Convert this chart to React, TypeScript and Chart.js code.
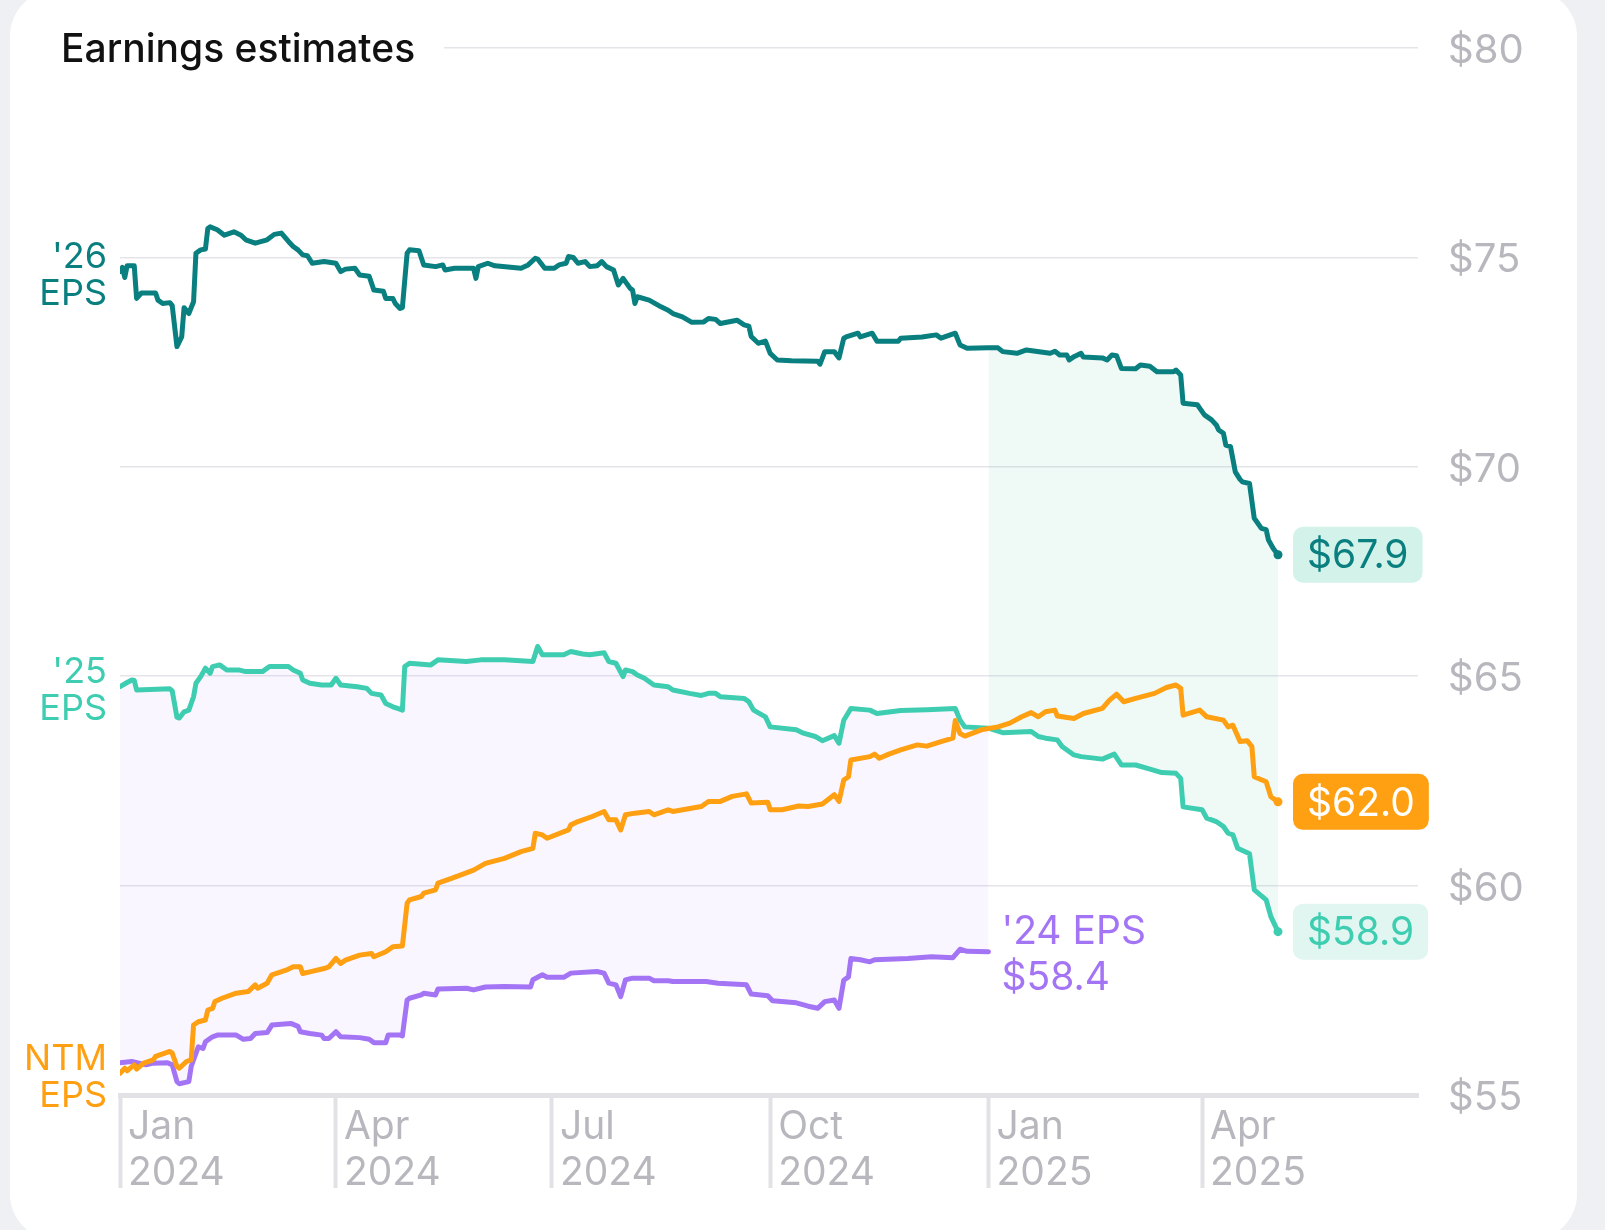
import React, { useEffect, useRef } from 'react';
import { Chart, registerables } from 'chart.js';

Chart.register(...registerables);

// Days counted from 1 Jan 2024
const eps26Days = [0,1,2,3,6,7,9,15,16,18,21,22,24,26,27,29,31,32,34,36,37,38,41,44,48,51,53,57,62,65,68,71,73,75,77,79,81,86,91,93,95,99,101,105,107,111,112,115,116,118,119,121,122,126,128,133,136,137,141,149,150,151,155,158,169,172,175,176,179,183,185,188,189,191,193,196,198,201,203,205,208,210,212,215,216,217,218,223,228,231,233,237,241,246,248,251,253,260,263,265,266,269,272,274,277,283,294,295,296,297,301,303,305,306,311,312,317,319,328,329,338,344,346,352,354,357,366,370,372,378,382,392,394,396,399,400,402,405,406,414,416,418,420,422,428,430,434,437,444,445,447,448,454,455,457,460,462,463,465,466,468,470,472,473,476,478,481,483,484,486,488];
const eps26Values = [74.66,74.76,74.52,74.8,74.8,74.02,74.15,74.15,73.98,73.9,73.92,73.85,72.87,73.1,73.8,73.66,73.94,75.1,75.18,75.2,75.69,75.73,75.66,75.53,75.61,75.53,75.42,75.34,75.42,75.55,75.58,75.38,75.26,75.18,75.06,75.04,74.86,74.9,74.86,74.66,74.72,74.74,74.58,74.55,74.22,74.19,74.02,74.02,73.9,73.78,73.8,75.1,75.18,75.16,74.82,74.78,74.82,74.7,74.74,74.74,74.5,74.78,74.86,74.8,74.74,74.82,74.98,74.96,74.74,74.74,74.82,74.86,75.02,75.0,74.86,74.9,74.78,74.8,74.9,74.78,74.7,74.34,74.5,74.26,74.22,73.9,74.06,73.98,73.82,73.74,73.66,73.58,73.45,73.46,73.54,73.52,73.42,73.5,73.39,73.36,73.11,72.95,73.0,72.71,72.55,72.53,72.52,72.45,72.6,72.75,72.75,72.6,73.07,73.1,73.19,73.1,73.19,73.0,73.0,73.07,73.1,73.15,73.07,73.19,72.91,72.83,72.84,72.84,72.75,72.71,72.79,72.71,72.76,72.67,72.67,72.55,72.63,72.71,72.62,72.6,72.55,72.67,72.65,72.35,72.34,72.43,72.4,72.27,72.27,72.31,72.19,71.52,71.48,71.4,71.24,71.12,71.0,70.88,70.8,70.52,70.48,69.88,69.7,69.64,69.6,68.77,68.53,68.5,68.25,68.05,67.9];

const eps25Days = [0,3,5,6,7,21,22,24,25,27,29,31,32,34,36,38,39,42,45,50,53,60,63,71,73,76,77,80,85,89,91,93,100,104,106,110,112,115,117,119,120,122,131,134,146,152,162,174,176,178,187,190,195,198,204,206,209,212,213,216,218,221,225,231,233,240,245,248,251,253,263,265,267,272,274,285,288,293,296,301,303,305,308,316,319,329,340,352,354,356,366,372,384,387,390,395,397,402,405,414,419,422,428,433,439,445,447,448,456,458,462,465,467,469,471,476,478,483,485,488];
const eps25Values = [64.75,64.85,64.91,64.9,64.67,64.7,64.65,64.02,64.0,64.15,64.19,64.51,64.83,64.99,65.19,65.07,65.23,65.27,65.15,65.15,65.11,65.11,65.23,65.23,65.15,65.07,64.91,64.83,64.79,64.79,64.95,64.79,64.75,64.71,64.59,64.55,64.35,64.27,64.23,64.19,65.23,65.31,65.27,65.39,65.35,65.39,65.39,65.35,65.71,65.51,65.51,65.59,65.53,65.51,65.56,65.35,65.31,64.99,65.15,65.11,65.03,64.95,64.79,64.75,64.67,64.59,64.54,64.59,64.59,64.51,64.47,64.39,64.19,64.03,63.79,63.72,63.64,63.56,63.46,63.58,63.4,63.95,64.23,64.19,64.11,64.18,64.2,64.23,63.95,63.79,63.76,63.65,63.68,63.56,63.52,63.48,63.32,63.12,63.08,63.02,63.14,62.88,62.88,62.8,62.7,62.68,62.56,61.88,61.81,61.61,61.53,61.41,61.25,61.21,60.89,60.76,59.9,59.66,59.26,58.9];

const ntmDays = [0,2,3,6,7,10,14,15,21,22,24,25,28,30,31,33,36,37,39,40,43,49,54,57,58,62,64,70,73,76,77,80,86,88,91,93,95,101,106,107,112,115,119,121,122,127,128,133,134,140,149,154,162,169,174,175,178,180,189,190,193,199,204,206,209,211,213,217,223,225,231,233,245,248,253,258,264,266,273,274,279,286,290,296,301,303,305,307,308,316,318,320,324,329,336,340,346,351,352,354,356,363,370,375,380,384,387,390,394,395,402,406,414,417,420,423,428,436,441,445,447,448,455,458,465,467,469,472,475,477,478,483,485,488];
const ntmValues = [55.52,55.64,55.58,55.72,55.62,55.76,55.84,55.92,56.04,56.0,55.68,55.64,55.8,55.84,56.67,56.75,56.79,57.03,57.07,57.23,57.31,57.43,57.47,57.63,57.55,57.67,57.87,57.98,58.06,58.06,57.9,57.94,58.02,58.06,58.26,58.14,58.22,58.34,58.38,58.3,58.42,58.54,58.56,59.58,59.66,59.74,59.82,59.9,60.06,60.18,60.37,60.53,60.65,60.81,60.89,61.25,61.21,61.13,61.33,61.45,61.53,61.65,61.77,61.57,61.57,61.33,61.69,61.73,61.77,61.69,61.81,61.77,61.89,62.01,62.01,62.13,62.19,61.97,61.99,61.81,61.81,61.9,61.89,61.95,62.17,62.01,62.52,62.6,63.0,63.08,63.14,63.04,63.14,63.24,63.36,63.33,63.44,63.52,63.94,63.63,63.57,63.72,63.79,63.88,64.03,64.13,64.03,64.15,64.19,64.05,63.99,64.11,64.23,64.43,64.57,64.39,64.47,64.59,64.73,64.79,64.71,64.07,64.19,64.03,63.95,63.79,63.83,63.44,63.46,63.32,62.6,62.48,62.12,62.0];

const eps24Days = [0,5,11,14,20,22,24,25,29,30,33,35,36,39,41,49,52,55,57,62,64,72,75,76,80,85,86,88,91,93,101,105,107,112,113,118,119,121,122,127,128,133,134,146,149,154,162,173,174,178,180,187,190,201,204,206,209,211,213,216,223,225,231,233,247,252,264,266,273,275,285,290,294,297,301,303,305,307,308,312,316,318,332,342,351,354,357,366];
const eps24Values = [55.77,55.8,55.72,55.76,55.77,55.72,55.32,55.27,55.32,55.68,56.15,56.11,56.27,56.39,56.43,56.43,56.33,56.35,56.47,56.49,56.67,56.71,56.64,56.51,56.47,56.43,56.35,56.35,56.51,56.39,56.37,56.33,56.25,56.25,56.43,56.43,56.41,57.27,57.31,57.39,57.43,57.39,57.53,57.55,57.51,57.58,57.59,57.58,57.75,57.87,57.81,57.81,57.91,57.95,57.91,57.67,57.63,57.35,57.75,57.79,57.79,57.73,57.73,57.71,57.71,57.67,57.63,57.41,57.37,57.25,57.2,57.12,57.07,57.23,57.27,57.07,57.74,57.82,58.26,58.23,58.18,58.23,58.26,58.3,58.28,58.48,58.43,58.42];

const xTickDays = [0, 91, 182, 274, 366, 456];
const xTickLabels = [['Jan', '2024'], ['Apr', '2024'], ['Jul', '2024'], ['Oct', '2024'], ['Jan', '2025'], ['Apr', '2025']];
const yTickValues = [55, 60, 65, 70, 75, 80];
const xRangeDays = [0, 547];
const seriesNames = ["'26", "'25", 'NTM', "'24"];
const TITLE = 'Earnings estimates';
const nextYearStartDay = 366;

const C26 = '#097f80';
const C25 = '#3fcdb1';
const CNTM = '#ff9f12';
const C24 = '#a375f5';
const FILL_TEAL = 'rgba(80,190,160,0.09)';
const FILL_PURPLE = 'rgba(160,110,250,0.06)';
const FONT = 'Inter';
const LINE_W = 5;

const pts = (days: number[], vals: number[]) => days.map((d, i) => ({ x: d, y: vals[i] }));

const endDot = (c: any) => (c.dataIndex === c.dataset.data.length - 1 ? 4.5 : 0);

const annotate = {
  id: 'annotate',
  afterDraw(chart: any) {
    const { ctx, chartArea } = chart;
    ctx.save();
    // title over the top grid line
    ctx.font = `500 39px ${FONT}`;
    const tw = ctx.measureText(TITLE).width;
    ctx.fillStyle = '#ffffff';
    ctx.fillRect(chartArea.left - 3, chartArea.top - 5, 61 + tw + 29 - chartArea.left + 3, 10);
    ctx.fillStyle = '#111111';
    ctx.textAlign = 'left';
    ctx.textBaseline = 'middle';
    ctx.fillText(TITLE, 61, chartArea.top + 2);

    // left series names
    const leftCols = [C26, C25, CNTM];
    ctx.font = `36px ${FONT}`;
    ctx.textAlign = 'right';
    for (let i = 0; i < 3; i++) {
      const meta = chart.getDatasetMeta(i);
      const p = meta.data[0];
      ctx.fillStyle = leftCols[i];
      ctx.fillText(seriesNames[i], chartArea.left - 13, p.y - 14.5);
      ctx.fillText('EPS', chartArea.left - 13, p.y + 23);
    }

    // right value badges
    const badges = [
      { i: 0, bg: '#d3f2ea', fg: C26 },
      { i: 1, bg: '#e1f6f1', fg: C25 },
      { i: 2, bg: CNTM, fg: '#ffffff' },
    ];
    ctx.font = `39px ${FONT}`;
    ctx.textAlign = 'left';
    for (const b of badges) {
      const meta = chart.getDatasetMeta(b.i);
      const data = chart.data.datasets[b.i].data as any[];
      const p = meta.data[meta.data.length - 1];
      const txt = '$' + data[data.length - 1].y.toFixed(1);
      const w = ctx.measureText(txt).width + 28;
      const x0 = p.x + 15;
      ctx.fillStyle = b.bg;
      ctx.beginPath();
      ctx.roundRect(x0, p.y - 28, w, 56, 10);
      ctx.fill();
      ctx.fillStyle = b.fg;
      ctx.fillText(txt, x0 + 14, p.y + 2);
    }

    // '24 label
    {
      const meta = chart.getDatasetMeta(3);
      const data = chart.data.datasets[3].data as any[];
      const p = meta.data[meta.data.length - 1];
      ctx.fillStyle = C24;
      ctx.fillText(seriesNames[3] + ' EPS', p.x + 13, p.y - 19);
      ctx.fillText('$' + data[data.length - 1].y.toFixed(1), p.x + 13, p.y + 27);
    }
    ctx.restore();
  },
};

export default function App() {
  const ref = useRef<HTMLCanvasElement>(null);
  useEffect(() => {
    const canvas = ref.current!;
    const d26 = pts(eps26Days, eps26Values);
    const chart = new Chart(canvas, {
      type: 'line',
      data: {
        datasets: [
          { label: "'26 EPS", data: d26, borderColor: C26, backgroundColor: C26, borderWidth: LINE_W, pointRadius: endDot, pointBackgroundColor: C26, pointBorderWidth: 0, fill: false, order: 1 },
          { label: "'25 EPS", data: pts(eps25Days, eps25Values), borderColor: C25, backgroundColor: C25, borderWidth: LINE_W, pointRadius: endDot, pointBackgroundColor: C25, pointBorderWidth: 0, fill: false, order: 2 },
          { label: 'NTM EPS', data: pts(ntmDays, ntmValues), borderColor: CNTM, backgroundColor: CNTM, borderWidth: LINE_W, pointRadius: endDot, pointBackgroundColor: CNTM, pointBorderWidth: 0, fill: false, order: 0 },
          { label: "'24 EPS", data: pts(eps24Days, eps24Values), borderColor: C24, backgroundColor: C24, borderWidth: LINE_W, pointRadius: 0, fill: { target: 1, above: FILL_PURPLE, below: FILL_PURPLE }, order: 3 },
          { label: 'band', data: d26.filter((p) => p.x >= nextYearStartDay), borderColor: 'rgba(0,0,0,0)', borderWidth: 0, pointRadius: 0, fill: { target: 1, above: FILL_TEAL, below: FILL_TEAL }, order: 4 },
        ] as any,
      },
      options: {
        responsive: false,
        animation: false,
        devicePixelRatio: 1,
        events: [],
        layout: { padding: { left: 120, top: 48, right: 0, bottom: 0 } },
        elements: { line: { tension: 0, borderWidth: LINE_W, borderJoinStyle: 'round', borderCapStyle: 'round' } },
        plugins: {
          legend: { display: false },
          tooltip: { enabled: false },
          filler: { drawTime: 'beforeDatasetsDraw', propagate: false },
        },
        scales: {
          x: {
            type: 'linear',
            position: 'bottom',
            min: xRangeDays[0],
            max: xRangeDays[1],
            afterBuildTicks: (scale: any) => {
              scale.ticks = xTickDays.map((v) => ({ value: v }));
            },
            afterFit: (scale: any) => {
              scale.height = 135;
              scale.paddingLeft = 0;
              scale.paddingRight = 0;
            },
            grid: { display: true, drawOnChartArea: false, drawTicks: true, tickLength: 93, tickWidth: 4, tickColor: '#e2e2e6' },
            border: { display: true, color: '#e2e2e6', width: 5 },
            ticks: {
              autoSkip: false,
              maxRotation: 0,
              minRotation: 0,
              align: 'start',
              labelOffset: 8,
              padding: -84,
              color: '#b7b7bd',
              font: { family: FONT, size: 39, lineHeight: 1.19 },
              callback: (_v: any, i: number) => xTickLabels[i],
            },
          },
          y: {
            type: 'linear',
            position: 'right',
            min: yTickValues[0],
            max: yTickValues[yTickValues.length - 1],
            afterBuildTicks: (scale: any) => {
              scale.ticks = yTickValues.map((v) => ({ value: v }));
            },
            afterFit: (scale: any) => {
              scale.width = 187;
              scale.paddingTop = 0;
              scale.paddingBottom = 0;
            },
            grid: { color: '#e5e5e9', lineWidth: 1.5, drawTicks: false },
            border: { display: false },
            ticks: {
              padding: 30,
              labelOffset: 3,
              color: '#b7b7bd',
              font: { family: FONT, size: 40 },
              callback: (v: any) => '$' + v,
            },
          },
        },
      } as any,
      plugins: [annotate],
    });
    return () => chart.destroy();
  }, []);

  return (
    <div style={{ position: 'fixed', left: 0, top: 0, width: 1605, height: 1230, background: '#eef0f4', overflow: 'hidden' }}>
      <div style={{ position: 'absolute', left: 10, top: -10, width: 1567, height: 1250, background: '#ffffff', borderRadius: 46 }} />
      <canvas ref={ref} width={1605} height={1230} style={{ position: 'absolute', left: 0, top: 0, width: 1605, height: 1230 }} />
    </div>
  );
}
